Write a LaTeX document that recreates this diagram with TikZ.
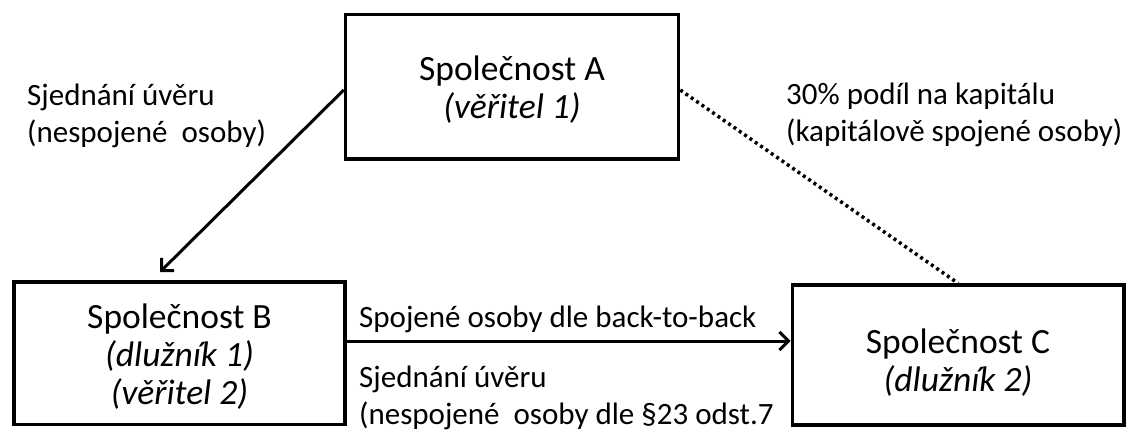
\documentclass[tikz,border=0pt]{standalone}
\usepackage{fontspec}
\setmainfont{Carlito}
\usetikzlibrary{arrows.meta}
\newcommand\lowerby[2]{\raisebox{-#1}[\height][\depth]{#2}}
\begin{document}
\begin{tikzpicture}[x=1pt,y=-1pt,
  box/.style={draw, line width=3.5pt, rectangle, inner sep=0pt, align=center,
    font=\fontsize{35.5}{38}\selectfont},
  lbl/.style={inner sep=0pt, align=left, anchor=base west,
    font=\fontsize{31}{37}\selectfont},
  conn/.style={line width=3pt, -{Straight Barb[length=9pt,width=18pt,line width=3pt]}},
  dots/.style={line width=3.5pt, dash pattern=on 3pt off 3.5pt}]
\useasboundingbox (0,0) rectangle (1126,430);
\node[box, minimum width=333pt, minimum height=144.5pt] (A) at (512,87)
  {\lowerby{3pt}{Společnost A}\\ \lowerby{3pt}{\textit{(věřitel 1)}}};
\node[box, minimum width=331pt, minimum height=142.5pt] (B) at (179.5,353)
  {\lowerby{4pt}{Společnost B}\\ \lowerby{4pt}{\textit{(dlužník 1)}}\\ \lowerby{4pt}{\textit{(věřitel 2)}}};
\node[box, minimum width=331.5pt, minimum height=140pt] (C) at (958,355)
  {\lowerby{8pt}{Společnost C}\\ \lowerby{8pt}{\textit{(dlužník 2)}}};
\coordinate (Btip) at (160,272);
\draw[conn] ([yshift=-3pt]A.west) -- (Btip);
\draw[dots] ([yshift=-3pt]A.east) -- (C.north);
\draw[conn] ([yshift=12pt]B.east) -- ([yshift=12pt]B.east -| C.west);
\node[lbl] (L1) at (27,143) {Sjednání úvěru\\(nespojené\ \ osoby)};
\node[lbl] (L2) at (786,142) {30\% podíl na kapitálu\\(kapitálově spojené osoby)};
\node[lbl] (L3) at (359,327) {Spojené osoby dle back-to-back};
\node[lbl] (L4) at (359,424) {Sjednání úvěru\\(nespojené\ \ osoby dle §23 odst.7};
\end{tikzpicture}
\end{document}
